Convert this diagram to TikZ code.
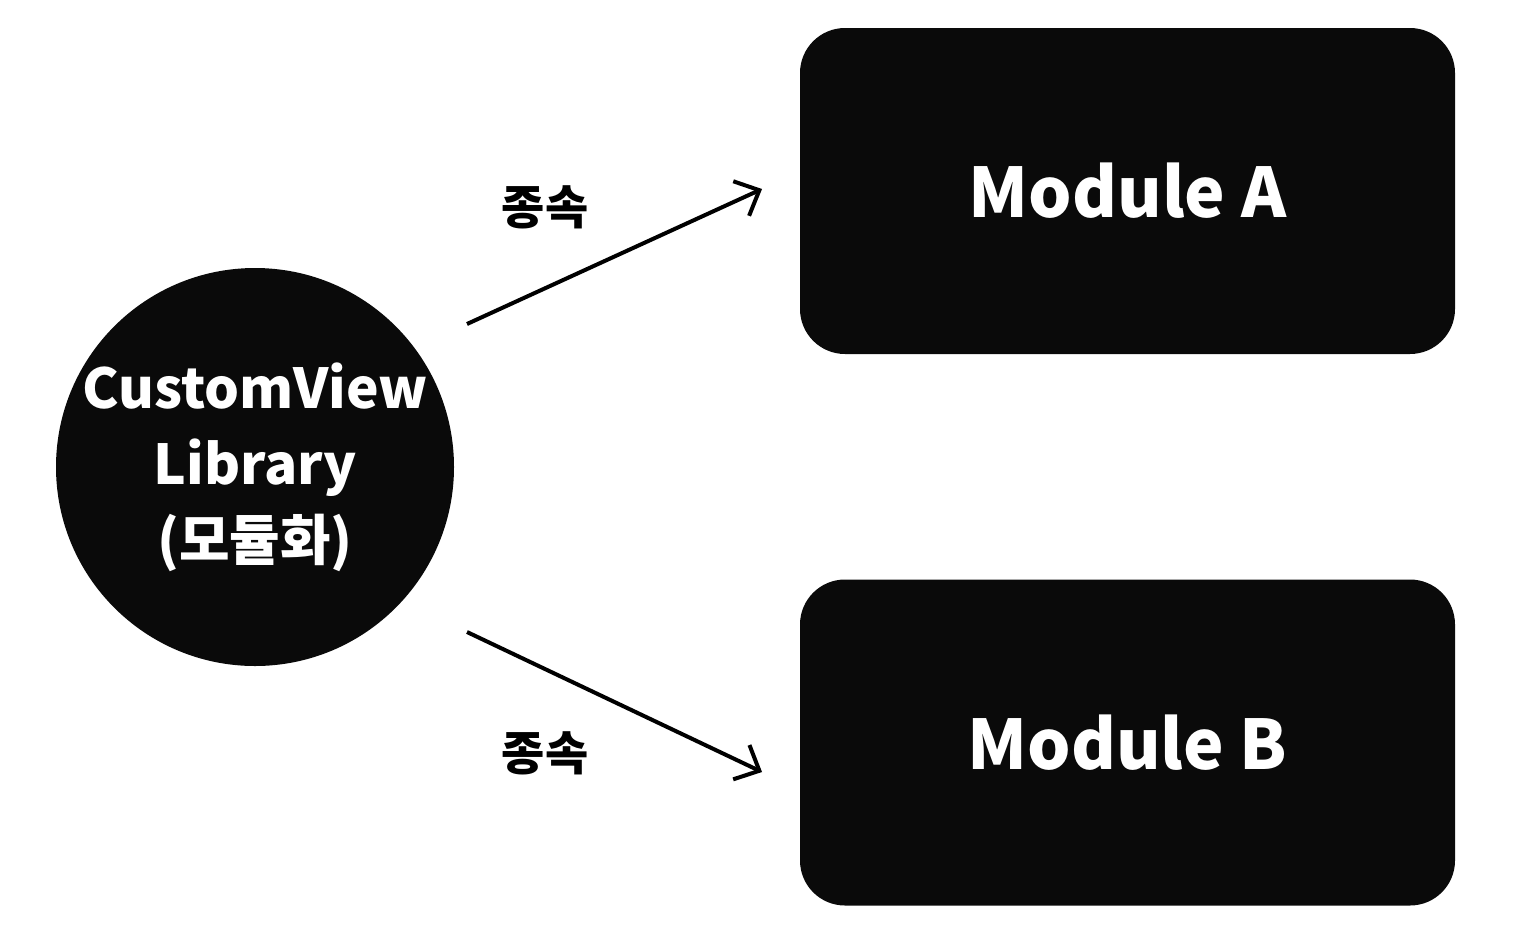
\documentclass[tikz,border=0pt]{standalone}
\usepackage{fontspec}
\setmainfont{Noto Sans CJK KR}
\usetikzlibrary{arrows.meta}

\begin{document}
\begin{tikzpicture}[x=0.5pt, y=-0.5pt,
    lib/.style={circle, fill=black!96, text=white, minimum size=199pt, inner sep=-40pt,
      align=center, font=\fontsize{27.5}{38}\selectfont\bfseries},
    modbox/.style={rectangle, rounded corners=22.5pt, fill=black!96, text=white,
      minimum width=327.5pt, minimum height=163pt, font=\fontsize{34.2}{40}\selectfont\bfseries},
    dep/.style={line width=2pt, -{Straight Barb[length=10pt, width=19pt]}},
    deplabel/.style={font=\fontsize{23.5}{26}\selectfont\bfseries}]
      \useasboundingbox (0,0) rectangle (1514,938);
      \node[lib] (lib) at (255,467) {CustomView\\Library\\(모듈화)};
      \node[modbox] (modA) at (1127.5,191) {Module A};
      \node[modbox] (modB) at (1127.5,742.5) {Module B};
      % arrow ends
      \coordinate (a0) at (467,324); \coordinate (a1) at (762,189);
      \coordinate (b0) at (467,632); \coordinate (b1) at (762,772);
      \draw[dep] (a0) -- (a1);
      \draw[dep] (b0) -- (b1);
      \node[deplabel] (labA) at (545,207) {종속};
      \node[deplabel] (labB) at (545,753) {종속};
\end{tikzpicture}
\end{document}
